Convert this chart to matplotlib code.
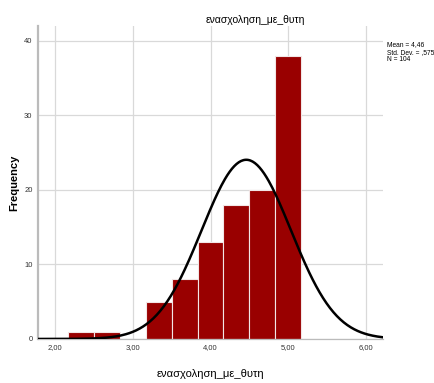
import numpy as np
import matplotlib.pyplot as plt

plt.rcParams['font.family'] = ['Liberation Sans', 'DejaVu Sans']

# histogram bins (width 1/3) and counts
bin_edges = [2.1667, 2.5, 2.8333, 3.1667, 3.5, 3.8333, 4.1667, 4.5, 4.8333, 5.1667]
counts = [1, 1, 0, 5, 8, 13, 18, 20, 38]
mean_val = 4.46
std_val = 0.575
n_obs = 104
x_ticks = [2, 3, 4, 5, 6]
x_tick_labels = ['2,00', '3,00', '4,00', '5,00', '6,00']
y_ticks = [0, 10, 20, 30, 40]
var_name = 'ενασχοληση_με_θυτη'

fig = plt.figure(figsize=(4.34, 3.83), dpi=100)
ax = fig.add_axes([0.0876, 0.115, 0.795, 0.817])

edges = np.array(bin_edges)
widths = np.diff(edges)
ax.bar(edges[:-1], counts, width=widths, align='edge', color='#990000',
       edgecolor='#f2e6e6', linewidth=0.8, zorder=2)

# normal curve scaled to the histogram
bw = widths[0]
xs = np.linspace(1.78, 6.22, 300)
ys = n_obs * bw / (std_val * np.sqrt(2 * np.pi)) * np.exp(-0.5 * ((xs - mean_val) / std_val) ** 2)
ax.plot(xs, ys, color='black', linewidth=1.8, zorder=3)

ax.set_xlim(1.78, 6.22)
ax.set_ylim(0, 42)
ax.set_xticks(x_ticks)
ax.set_xticklabels(x_tick_labels)
ax.set_yticks(y_ticks)
ax.tick_params(axis='both', length=0, labelsize=5.5, colors='#333333', pad=4)
ax.grid(True, color='#d9d9d9', linewidth=0.9, zorder=0)
ax.set_axisbelow(True)

for s in ['top', 'right']:
    ax.spines[s].set_visible(False)
ax.spines['left'].set_color('#bbbbbb')
ax.spines['left'].set_linewidth(1.6)
ax.spines['bottom'].set_color('#bbbbbb')
ax.spines['bottom'].set_linewidth(0.9)

ax.set_xlabel(var_name, fontsize=8)
ax.xaxis.set_label_coords(0.5, -0.095)
ax.set_ylabel('Frequency', fontsize=8, fontweight='bold')
ax.yaxis.set_label_coords(-0.055, 0.5)
fig.text(0.588, 0.948, var_name, ha='center', va='center', fontsize=7.5)

fig.text(0.892, 0.893, 'Mean = 4,46\nStd. Dev. = ,575\nN = 104',
         ha='left', va='top', fontsize=4.8, linespacing=1.15)

fig.savefig('out.png', dpi=100)
